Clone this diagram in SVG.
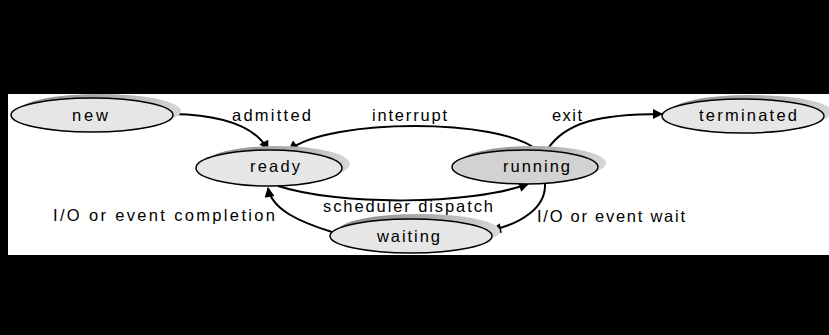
<svg xmlns="http://www.w3.org/2000/svg" width="829" height="335" viewBox="0 0 829 335">
<defs>
<linearGradient id="sh" x1="0" y1="0" x2="1" y2="0">
<stop offset="0" stop-color="#8a8a8a"/>
<stop offset="0.6" stop-color="#b0b0b0"/>
<stop offset="1" stop-color="#d8d8d8"/>
</linearGradient>
<marker id="ah" viewBox="0 0 10 10" refX="9" refY="5" markerWidth="14" markerHeight="10" markerUnits="userSpaceOnUse" orient="auto">
<path d="M0,0 L10,5 L0,10 Z" fill="#000"/>
</marker>
<style>
.node{fill:#e6e6e6;stroke:#000;stroke-width:1.5}
.run{fill:#d2d2d2}
.shadow{fill:url(#sh);stroke:none}
.lbl{font-family:"Liberation Sans",Arial,sans-serif;font-size:16.5px;fill:#000}
.edge{fill:none;stroke:#000;stroke-width:2;marker-end:url(#ah)}
</style>
</defs>
<rect x="0" y="0" width="829" height="335" fill="#000"/>
<rect x="8" y="94" width="821" height="161" fill="#fff"/>

<g id="connectors">
<path class="edge" d="M173,114 C220,115 255,125 268,150"/>
<path class="edge" d="M537,150 C500,118 330,118 289,150"/>
<path class="edge" d="M547,150 C565,122 600,114 662,114"/>
<path class="edge" d="M278,186 C340,206 470,205 528,184"/>
<path class="edge" d="M545,184 C546,208 520,224 492,230"/>
<path class="edge" d="M332,232 C300,222 272,210 268,188"/>
<text class="lbl" x="232" y="121" textLength="79">admitted</text>
<text class="lbl" x="372" y="121" textLength="75">interrupt</text>
<text class="lbl" x="552" y="121" textLength="30">exit</text>
<text class="lbl" x="323" y="212" textLength="170">scheduler dispatch</text>
<text class="lbl" x="53" y="221" textLength="222">I/O or event completion</text>
<text class="lbl" x="537" y="222" textLength="148">I/O or event wait</text>
</g>

<g id="new">
<ellipse class="shadow" cx="100" cy="111" rx="81" ry="17"/>
<ellipse class="node" cx="92" cy="115" rx="81" ry="17"/>
<text class="lbl" x="72" y="121" textLength="36">new</text>
</g>
<g id="ready">
<ellipse class="shadow" cx="277" cy="164" rx="73" ry="18"/>
<ellipse class="node" cx="269" cy="168" rx="73" ry="18"/>
<text class="lbl" x="250" y="172" textLength="50">ready</text>
</g>
<g id="running">
<ellipse class="shadow" cx="533" cy="163" rx="73" ry="17"/>
<ellipse class="node run" cx="525" cy="167" rx="73" ry="17"/>
<text class="lbl" x="503" y="172" textLength="67">running</text>
</g>
<g id="terminated">
<ellipse class="shadow" cx="751" cy="112" rx="81" ry="17"/>
<ellipse class="node" cx="743" cy="116" rx="81" ry="17"/>
<text class="lbl" x="699" y="121" textLength="98">terminated</text>
</g>
<g id="waiting">
<ellipse class="shadow" cx="419" cy="231" rx="81" ry="17"/>
<ellipse class="node" cx="411" cy="236" rx="81" ry="17"/>
<text class="lbl" x="377" y="242" textLength="63">waiting</text>
</g>
</svg>
